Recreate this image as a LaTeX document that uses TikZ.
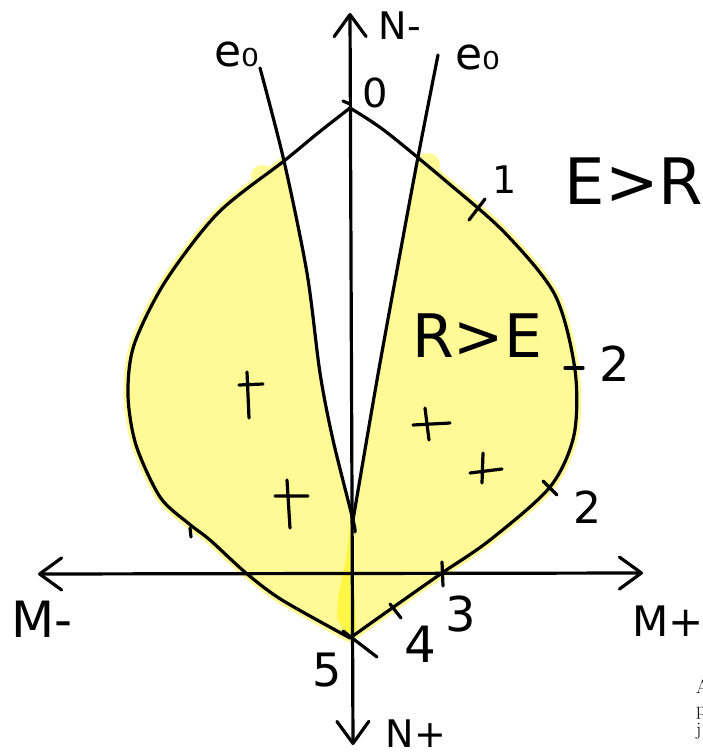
\documentclass[tikz,border=0pt]{standalone}
\usepackage{fontspec}
\usepackage{xcolor}
\usepackage{tikz}
\usetikzlibrary{arrows.meta}
\newfontfamily\hand{DejaVu Sans}
\definecolor{hilite}{RGB}{255,250,150}
\definecolor{hilitedeep}{RGB}{255,246,70}
\tikzset{
  pen/.style={line width=3.2pt, line cap=round, line join=round},
  axis/.style={pen, {Straight Barb[length=22pt,width=32pt,round]}-{Straight Barb[length=22pt,width=32pt,round]}},
  lbl/.style={inner sep=0pt, font=\hand\fontsize{#1}{#1}\selectfont},
}

\begin{document}
\begin{tikzpicture}[x=1pt,y=-1pt]
            \useasboundingbox (0,0) rectangle (703,754);
            \coordinate (top) at (350,108);
            \coordinate (bot) at (350,638);
            \coordinate (meet) at (353,520);
            \coordinate (eleft) at (260,68);
            \coordinate (eright) at (438,55);
            \coordinate (mleft) at (38,574);
            \coordinate (mright) at (643,573);
            \coordinate (nminus) at (350,13);
            \coordinate (nplus) at (353,745);

            \fill[hilite] plot[smooth] coordinates {(top) (318,133) (284,161) (218,213) (165,282) (134,345) (128,395) (136,445) (160,497) (188,523) (210,540) (246,573) (282,600) (bot)}
              -- plot[smooth] coordinates {(bot) (395,606) (442,573) (490,540) (550,487) (574,435) (575,370) (555,295) (505,233) (447,182) (385,131) (top)} -- cycle;
            \draw[hilite, line width=9pt, line join=round] plot[smooth] coordinates {(top) (318,133) (284,161) (218,213) (165,282) (134,345) (128,395) (136,445) (160,497) (188,523) (210,540) (246,573) (282,600) (bot)}
              -- plot[smooth] coordinates {(bot) (395,606) (442,573) (490,540) (550,487) (574,435) (575,370) (555,295) (505,233) (447,182) (385,131) (top)};
            \fill[white] plot[smooth] coordinates {(meet) (333,440) (320,373) (307,273) (284,161) (eleft)}
              -- plot[smooth] coordinates {(eright) (418,157) (397,270) (377,380) (meet)} -- cycle;
            \fill[hilite] (262,176) circle (11);
            \fill[hilite] (428,165) circle (12);
            \fill[hilitedeep] (350,524) -- (353,565) -- (356,630) -- (348,637) -- (337,618) -- (338,596) -- (346,560) -- cycle;

            \draw[axis] (mleft) -- (mright);
            \draw[axis] (nplus) -- (nminus);

            \draw[pen] plot[smooth] coordinates {(top) (318,133) (284,161) (218,213) (165,282) (134,345) (128,395) (136,445) (160,497) (188,523) (210,540) (246,573) (282,600) (bot)};
            \draw[pen] plot[smooth] coordinates {(bot) (395,606) (442,573) (490,540) (550,487) (574,435) (575,370) (555,295) (505,233) (447,182) (385,131) (top)};
            \draw[pen] plot[smooth] coordinates {(eleft) (284,161) (307,273) (320,373) (333,440) (meet) (355,532)};
            \draw[pen] plot[smooth] coordinates {(eright) (418,157) (397,270) (377,380) (meet)};

            \draw[pen] (343,101) -- (350,104);
            \draw[pen] (469,220) -- (485,199);
            \draw[pen] (565,368) -- (583,368);
            \draw[pen] (543,481) -- (557,495);
            \draw[pen] (442,562) -- (443,586);
            \draw[pen] (390,604) -- (401,618);
            \draw[pen] (343,631) -- (377,657);
            \draw[pen] (190,528) -- (191,537);

            \draw[pen] (247,372) -- (249,418) (239,385) -- (263,384);
            \draw[pen] (287,480) -- (290,528) (275,496) -- (308,496);
            \draw[pen] (413,425) -- (450,423) (425,408) -- (429,440);
            \draw[pen] (470,473) -- (502,469) (483,453) -- (482,483);

            \node[lbl=38] (nmlabel) at (400,26) {N-};
            \node[lbl=38] (nplabel) at (416,734) {N+};
            \node[lbl=50] (mmlabel) at (42,619) {M-};
            \node[lbl=42] (mplabel) at (668,621) {M+};
            \node[lbl=44] (elabel) at (237,54) {e₀};
            \node[lbl=44] (erlabel) at (478,57) {e₀};
            \node[lbl=40] (zero) at (375,93) {0};
            \node[lbl=38] (one) at (505,180) {1};
            \node[lbl=48] (twoa) at (615,364) {2};
            \node[lbl=44] (twob) at (587,507) {2};
            \node[lbl=48] (three) at (461,614) {3};
            \node[lbl=50] (four) at (420,644) {4};
            \node[lbl=46] (five) at (327,670) {5};
            \node[lbl=64] (ergt) at (634,181) {E>R};
            \node[lbl=60] (rgte) at (477,336) {R>E};

            \node[anchor=base west, inner sep=0pt, font=\fontsize{19}{19}\selectfont] (capa) at (696,693) {A};
            \node[anchor=base west, inner sep=0pt, font=\fontsize{19}{19}\selectfont] (capp) at (696,715) {p};
            \node[anchor=base west, inner sep=0pt, font=\fontsize{19}{19}\selectfont] (capj) at (696,735) {j};
        \end{tikzpicture}
\end{document}
